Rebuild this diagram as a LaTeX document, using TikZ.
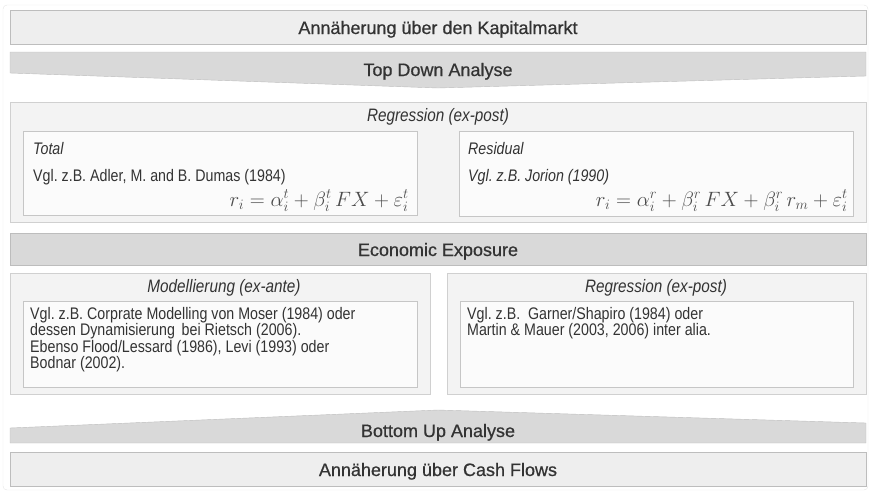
\documentclass[tikz,border=0pt]{standalone}
\usepackage{fontspec}
\setmainfont[FakeStretch=0.85]{Liberation Sans}
\newfontfamily\bandfamily[FakeBold=0.6]{Liberation Sans}
\usetikzlibrary{positioning}
\frenchspacing

\definecolor{txtgray}{HTML}{333333}
\definecolor{bandfill}{HTML}{EEEEEE}
\definecolor{banddark}{HTML}{D9D9D9}
\definecolor{bandline}{HTML}{BDBDBD}
\definecolor{boxfill}{HTML}{F3F3F3}
\definecolor{boxline}{HTML}{D0D0D0}
\definecolor{innerfill}{HTML}{FBFBFB}
\definecolor{innerline}{HTML}{C6C6C6}

\begin{document}
\begin{tikzpicture}[
        x=1pt, y=-1pt,
        every node/.style={text=txtgray},
        band/.style={rectangle, draw=bandline, fill=bandfill, minimum width=856pt, minimum height=34pt,
          inner sep=0pt, text height=14pt, text depth=0pt, font=\bandfamily\fontsize{18}{20}\selectfont},
        arrowband/.style={draw=bandline, fill=banddark},
        bandtext/.style={inner sep=0pt, text height=14pt, text depth=0pt, font=\bandfamily\fontsize{18}{20}\selectfont},
        outerbox/.style={rectangle, draw=boxline, fill=boxfill, anchor=north west, inner sep=0pt},
        innerbox/.style={rectangle, draw=innerline, fill=innerfill, anchor=north west, inner sep=0pt},
        boxtitle/.style={inner sep=0pt, font=\itshape\fontsize{18}{20}\selectfont},
        bodytext/.style={inner sep=0pt, align=left, font=\fontsize{16.75}{16.5}\selectfont},
        formula/.style={inner sep=0pt, text=black!70, font=\fontsize{19.5}{21}\selectfont}
      ]
        \useasboundingbox (0,0) rectangle (869,493);
        \draw[gray!20, rounded corners=4pt] (3,5) rectangle (868,490);

        % capital market side
        \node[band] (kapital) at (438,27) {Annäherung über den Kapitalmarkt};
        \draw[arrowband] (10,52) -- (866,52) -- (866,76) -- (438,88) -- (10,73) -- cycle;
        \node[bandtext] (topdown) at (438,69) {Top Down Analyse};

        % regression ex-post (top)
        \node[outerbox, minimum width=856pt, minimum height=120pt] (regtop) at (10,102) {};
        \node[boxtitle] (regtoptitle) at (438,117) {Regression (ex-post)};
        \node[innerbox, minimum width=394pt, minimum height=84pt] (total) at (23,131) {};
        \node[innerbox, minimum width=394pt, minimum height=85pt] (resid) at (459,131) {};
        \node[bodytext, font=\itshape\fontsize{16.75}{16.5}\selectfont, anchor=west] (totallbl) at (33,149) {Total};
        \node[bodytext, anchor=west] (totaltxt) at (33,177) {Vgl. z.B. Adler, M. and B. Dumas (1984)};
        \node[formula, anchor=base east] (totalform) at (409,206)
          {$r_i = \alpha_i^t + \beta_i^t\, FX + \varepsilon_i^t$};
        \node[bodytext, font=\itshape\fontsize{16.75}{16.5}\selectfont, anchor=west] (residlbl) at (468,149) {Residual};
        \node[bodytext, font=\itshape\fontsize{16.75}{16.5}\selectfont, anchor=west] (residtxt) at (468,177) {Vgl. z.B. Jorion (1990)};
        \node[formula, anchor=base east] (residform) at (848,206)
          {$r_i = \alpha_i^r + \beta_i^r\, FX + \beta_i^r\, r_m + \varepsilon_i^t$};

        \node[band, fill=banddark, minimum height=32pt] (econ) at (438,249) {Economic Exposure};

        % modelling ex-ante / regression ex-post (bottom)
        \node[outerbox, minimum width=420pt, minimum height=121pt] (modell) at (10,273) {};
        \node[boxtitle] (modelltitle) at (224,288) {Modellierung (ex-ante)};
        \node[innerbox, minimum width=394pt, minimum height=86pt] (modellin) at (23,301) {};
        \node[bodytext, below right=6pt and 7pt of modellin.north west] (modelltxt)
          {Vgl. z.B. Corprate Modelling von Moser (1984) oder\\
           dessen Dynamisierung\, bei Rietsch (2006).\\
           Ebenso Flood/Lessard (1986), Levi (1993) oder\\
           Bodnar (2002).};

        \node[outerbox, minimum width=419pt, minimum height=121pt] (regbot) at (447,273) {};
        \node[boxtitle] (regbottitle) at (656,288) {Regression (ex-post)};
        \node[innerbox, minimum width=393pt, minimum height=86pt] (regbotin) at (460,301) {};
        \node[bodytext, below right=6pt and 7pt of regbotin.north west] (regbottxt)
          {Vgl. z.B.\ \ Garner/Shapiro (1984) oder\\
           Martin \& Mauer (2003, 2006) inter alia.};

        % cash flow side
        \draw[arrowband] (10,428) -- (438,410) -- (866,423) -- (866,443) -- (10,443) -- cycle;
        \node[bandtext] (bottomup) at (438,430) {Bottom Up Analyse};
        \node[band] (cashflow) at (438,469) {Annäherung über Cash Flows};
      \end{tikzpicture}
\end{document}
